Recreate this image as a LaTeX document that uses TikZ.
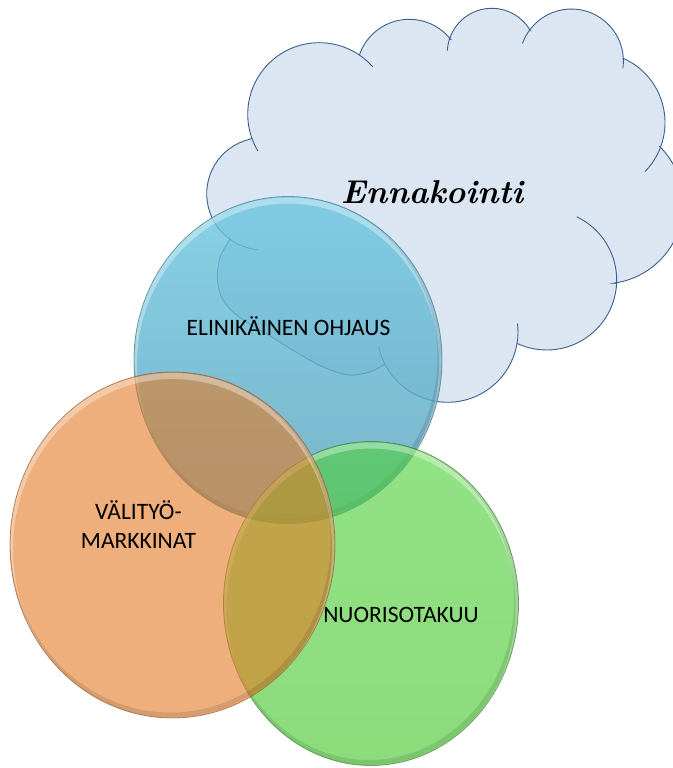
\documentclass[tikz,border=0pt]{standalone}
\usepackage{fontspec}
\newfontfamily\calib{Carlito}
\definecolor{cloudfill}{RGB}{220,230,242}
\definecolor{cloudline}{RGB}{60,96,140}
\definecolor{bluetop}{RGB}{105,198,224}
\definecolor{bluebot}{RGB}{88,160,188}
\definecolor{blueedge}{RGB}{45,105,130}
\definecolor{greentop}{RGB}{80,210,60}
\definecolor{greenbot}{RGB}{70,198,44}
\definecolor{greenedge}{RGB}{40,120,30}
\definecolor{orangefill}{RGB}{227,123,37}
\definecolor{orangeedge}{RGB}{140,80,30}
\begin{document}
\begin{tikzpicture}[x=1pt,y=-1pt,
  cloudshape/.style={fill=cloudfill, draw=cloudline, line width=0.9pt, line join=miter},
  cloudtail/.style={draw=cloudline, line width=0.9pt},
  venntext/.style={font=\calib\fontsize{23.5}{28.8}\selectfont, text=black, inner sep=0pt, anchor=base, align=center},
  hilite/.style={white, line width=6pt, opacity=0.35},
  shadowrim/.style={black, line width=5pt, opacity=0.10},
]
\fill[white] (0,0) rectangle (672,768);
\useasboundingbox (0,0) rectangle (672,768);

% ---------- cloud ----------
\path[cloudshape]
  ([shift={(262.8,193.8)}]256.1:56.1) arc[start angle=256.1, end angle=125.8, radius=56.1]
  -- plot[smooth] coordinates {(230,239.3) (220.5,256) (217.3,276) (221,296) (232,311) (248,323) (270,336) (296,352) (322,366.5) (348,375) (370,372) (385,364)}
  -- ([shift={(447.5,331.8)}]152.7:70.5) arc[start angle=152.7, end angle=9.4, radius=70.5]
  -- ([shift={(546.7,280)}]115.4:70) arc[start angle=115.4, end angle=2.8, radius=70]
  -- ([shift={(603,203.5)}]82.6:80.4) arc[start angle=82.6, end angle=-44.9, radius=80.4]
  -- ([shift={(594.8,122.5)}]20.4:70.2) arc[start angle=20.4, end angle=-66.1, radius=70.2]
  -- ([shift={(571.4,61)}]-3:52) arc[start angle=-3, end angle=-143.2, radius=52]
  -- ([shift={(491.8,52.8)}]-30.8:44.5) arc[start angle=-30.8, end angle=-161.8, radius=44.5]
  -- ([shift={(409.3,72.1)}]-38.4:52.8) arc[start angle=-38.4, end angle=-161.1, radius=52.8]
  -- ([shift={(319.2,114.2)}]-55.9:71.5) arc[start angle=-55.9, end angle=-199.8, radius=71.5]
  -- cycle;
% inner arcs of the cloud
\draw[cloudtail] ([shift={(262.8,193.8)}]125.8:56.1) arc[start angle=125.8, end angle=95, radius=56.1];
\draw[cloudtail] ([shift={(447.5,331.8)}]152.7:70.5) arc[start angle=152.7, end angle=167.8, radius=70.5];
\draw[cloudtail] ([shift={(447.5,331.8)}]9.4:70.5) arc[start angle=9.4, end angle=-6.8, radius=70.5];
\draw[cloudtail] ([shift={(546.7,280)}]2.8:70) arc[start angle=2.8, end angle=-64.6, radius=70];
\draw[cloudtail] ([shift={(594.8,122.5)}]20.4:70.2) arc[start angle=20.4, end angle=44.4, radius=70.2];
\draw[cloudtail] ([shift={(571.4,61)}]-3:52) arc[start angle=-3, end angle=8, radius=52];
\draw[cloudtail] ([shift={(571.4,61)}]-143.2:52) arc[start angle=-143.2, end angle=-160.4, radius=52];
\draw[cloudtail] ([shift={(491.8,52.8)}]-161.8:44.5) arc[start angle=-161.8, end angle=-177.3, radius=44.5];
\draw[cloudtail] ([shift={(319.2,114.2)}]-55.9:71.5) arc[start angle=-55.9, end angle=-41.6, radius=71.5];
\draw[cloudtail] ([shift={(319.2,114.2)}]-199.8:71.5) arc[start angle=-199.8, end angle=-211, radius=71.5];

\node[font=\fontsize{33}{38}\selectfont\bfseries\itshape, anchor=base, inner sep=0pt] (enna) at (432,203) {Ennakointi};

% ---------- blue ----------
\shade[top color=bluetop, bottom color=bluebot, fill opacity=0.8] (288,360) ellipse [x radius=154, y radius=163.5];
\begin{scope}
  \clip (288,360) ellipse [x radius=154, y radius=163.5];
  \draw[hilite] (288,364) ellipse [x radius=154, y radius=163.5];
  \draw[shadowrim] (286,357) ellipse [x radius=154, y radius=163.5];
\end{scope}
\draw[blueedge, line width=0.8pt, draw opacity=0.6] (288,360) ellipse [x radius=154, y radius=163.5];

% ---------- green ----------
\shade[top color=greentop, bottom color=greenbot, fill opacity=0.62] (371,603.5) ellipse [x radius=147.5, y radius=162];
\begin{scope}
  \clip (371,603.5) ellipse [x radius=147.5, y radius=162];
  \draw[hilite] (371,607.5) ellipse [x radius=147.5, y radius=162];
  \draw[shadowrim] (369,600.5) ellipse [x radius=147.5, y radius=162];
\end{scope}
\draw[greenedge, line width=0.8pt, draw opacity=0.6] (371,603.5) ellipse [x radius=147.5, y radius=162];

% ---------- orange ----------
\fill[orangefill, fill opacity=0.6] (172.5,545) ellipse [x radius=162.5, y radius=173];
\begin{scope}
  \clip (172.5,545) ellipse [x radius=162.5, y radius=173];
  \draw[hilite] (172.5,549) ellipse [x radius=162.5, y radius=173];
  \draw[shadowrim] (170.5,542) ellipse [x radius=162.5, y radius=173];
\end{scope}
\draw[orangeedge, line width=0.8pt, draw opacity=0.6] (172.5,545) ellipse [x radius=162.5, y radius=173];

% ---------- labels ----------
\node[venntext] (elin) at (288.5,335) {ELINIKÄINEN OHJAUS};
\node[venntext] (vali) at (138.5,548) {VÄLITYÖ-\\MARKKINAT};
\node[venntext] (nuor) at (401,622) {NUORISOTAKUU};
\end{tikzpicture}
\end{document}
